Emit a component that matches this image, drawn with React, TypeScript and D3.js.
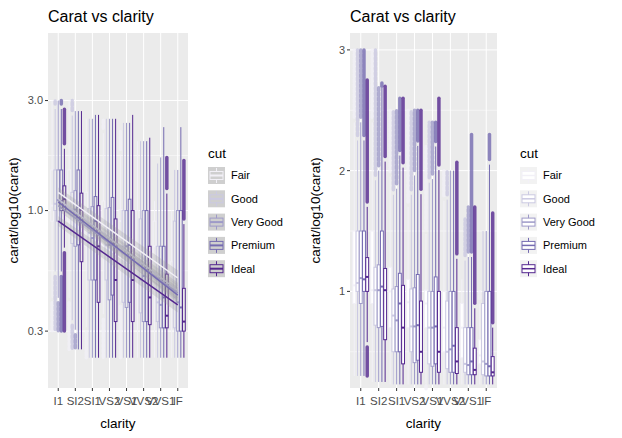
import * as d3 from 'd3'

const clarity = ['I1', 'SI2', 'SI1', 'VS2', 'VS1', 'VVS2', 'VVS1', 'IF']
const cuts = ['Fair', 'Good', 'Very Good', 'Premium', 'Ideal']
const colors = ['#F2F0F7', '#CBC9E2', '#9E9AC8', '#756BB1', '#54278F']

const medians = [
  [1.05, 1.01, 1.0, 0.91, 0.9, 0.7, 0.7, 0.47],
  [1.07, 1.01, 0.8, 0.71, 0.7, 0.5, 0.4, 0.42],
  [1.11, 1.01, 0.76, 0.71, 0.7, 0.52, 0.39, 0.4],
  [1.1, 1.04, 0.9, 0.72, 0.71, 0.55, 0.42, 0.38],
  [1.12, 1.01, 0.7, 0.5, 0.5, 0.42, 0.35, 0.33],
]
const q1s = [
  [0.9, 0.9, 0.7, 0.7, 0.7, 0.5, 0.45, 0.4],
  [1.0, 0.72, 0.5, 0.5, 0.4, 0.36, 0.33, 0.31],
  [0.9, 0.7, 0.5, 0.41, 0.38, 0.33, 0.31, 0.3],
  [1.0, 0.71, 0.5, 0.43, 0.4, 0.33, 0.31, 0.3],
  [1.0, 0.6, 0.4, 0.33, 0.33, 0.32, 0.31, 0.3],
]
const q3s = [
  [1.5, 1.5, 1.2, 1.1, 1.01, 1.0, 0.9, 0.6],
  [1.5, 1.2, 1.02, 1.02, 1.0, 0.92, 0.7, 0.9],
  [1.5, 1.22, 1.04, 1.03, 1.0, 1.0, 0.7, 1.0],
  [1.5, 1.5, 1.15, 1.14, 1.12, 1.0, 0.7, 1.0],
  [1.28, 1.19, 1.05, 0.92, 1.0, 0.7, 0.53, 0.46],
]
const maxVals = [
  [3.0, 3.0, 2.5, 2.5, 2.2, 2.0, 1.1, 1.0],
  [3.0, 3.0, 2.5, 2.5, 2.4, 2.0, 1.6, 1.5],
  [3.0, 2.7, 2.5, 2.5, 2.4, 2.0, 1.7, 1.5],
  [3.0, 2.7, 2.6, 2.5, 2.4, 2.0, 2.3, 2.3],
  [2.75, 2.7, 2.6, 2.5, 2.6, 2.07, 1.7, 1.65],
]
const minVals = [0.3, 0.25, 0.23, 0.23, 0.23, 0.23, 0.23, 0.23]

// lm fit ends on the log panel (value at I1, value at IF)
const fitStart = [1.2, 1.12, 1.05, 1.09, 0.9]
const fitEnd = [0.51, 0.45, 0.44, 0.43, 0.39]

const W = 622
const H = 438

type Panel = {
  x0: number
  x1: number
  log: boolean
  ticks: number[]
  labels: string[]
  minor: number[]
  whiteFill: boolean
}

const top = 33
const bottom = 388

function PanelView({ p }: { p: Panel }) {
  const y = p.log
    ? d3.scaleLog().domain([0.17, 5.89]).range([bottom, top])
    : d3.scaleLinear().domain([0.2, 3.14]).range([bottom, top])
  const x = d3
    .scalePoint<string>()
    .domain(clarity)
    .range([p.x0, p.x1])
    .padding(0.6)
  const step = x.step()
  const dodge = (step * 0.9) / cuts.length
  const t = (v: number) => (p.log ? Math.log10(v) : v)
  const inv = (v: number) => (p.log ? Math.pow(10, v) : v)
  const cx = p.x0 - 30
  return (
    <g>
      <rect x={p.x0} y={top} width={p.x1 - p.x0} height={bottom - top} fill="#EBEBEB" />
      {p.minor.map((v) => (
        <line key={'m' + v} x1={p.x0} x2={p.x1} y1={y(v)} y2={y(v)} stroke="#fff" strokeWidth={0.5} />
      ))}
      {p.ticks.map((v) => (
        <line key={'g' + v} x1={p.x0} x2={p.x1} y1={y(v)} y2={y(v)} stroke="#fff" strokeWidth={1} />
      ))}
      {clarity.map((c) => (
        <line key={'v' + c} x1={x(c)} x2={x(c)} y1={top} y2={bottom} stroke="#fff" strokeWidth={1} />
      ))}
      {clarity.map((c, ci) =>
        cuts.map((cut, k) => {
          const xc = (x(c) as number) - (step * 0.9) / 2 + dodge * (k + 0.5)
          const q1 = q1s[k][ci]
          const q3 = q3s[k][ci]
          const iqr = t(q3) - t(q1)
          const hi = Math.min(inv(t(q3) + 1.5 * iqr), maxVals[k][ci])
          const lo = Math.max(inv(t(q1) - 1.5 * iqr), minVals[ci])
          const col = colors[k]
          const bw = dodge * 0.9
          return (
            <g key={c + cut}>
              {maxVals[k][ci] > hi && (
                <line x1={xc} x2={xc} y1={y(hi) - 5} y2={y(maxVals[k][ci])} stroke={col} strokeWidth={3.5} strokeLinecap="round" opacity={0.8} strokeDasharray={k < 3 ? '3 2' : undefined} />
              )}
              {minVals[ci] < lo && (
                <line x1={xc} x2={xc} y1={y(lo) + 5} y2={y(minVals[ci])} stroke={col} strokeWidth={3.5} strokeLinecap="round" opacity={0.8} strokeDasharray={k < 3 ? '3 2' : undefined} />
              )}
              <line x1={xc} x2={xc} y1={y(hi)} y2={y(lo)} stroke={col} strokeWidth={1} />
              <rect
                x={xc - bw / 2}
                y={y(q3)}
                width={bw}
                height={y(q1) - y(q3)}
                fill={p.whiteFill ? '#fff' : '#EBEBEB'}
                stroke={col}
                strokeWidth={1}
              />
              <line x1={xc - bw / 2} x2={xc + bw / 2} y1={y(medians[k][ci])} y2={y(medians[k][ci])} stroke={col} strokeWidth={2} />
            </g>
          )
        })
      )}
      {p.log &&
        cuts.map((cut, k) => {
          const xa = x(clarity[0]) as number
          const xb = x(clarity[clarity.length - 1]) as number
          return (
            <g key={'fit' + cut}>
              <polygon
                points={`${xa},${y(fitStart[k] * 1.05)} ${xb},${y(fitEnd[k] * 1.08)} ${xb},${y(fitEnd[k] / 1.08)} ${xa},${y(fitStart[k] / 1.05)}`}
                fill="#999"
                opacity={0.25}
              />
              <line x1={xa} x2={xb} y1={y(fitStart[k])} y2={y(fitEnd[k])} stroke={colors[k]} strokeWidth={1.5} />
            </g>
          )
        })}
      {p.ticks.map((v, i) => (
        <g key={'t' + v}>
          <line x1={p.x0 - 3} x2={p.x0} y1={y(v)} y2={y(v)} stroke="#333" />
          <text x={p.x0 - 5} y={y(v)} dy="0.35em" textAnchor="end" fontSize={11} fill="#4D4D4D">
            {p.labels[i]}
          </text>
        </g>
      ))}
      {clarity.map((c) => (
        <g key={'xt' + c}>
          <line x1={x(c)} x2={x(c)} y1={bottom} y2={bottom + 3} stroke="#333" />
          <text x={x(c)} y={bottom + 17} textAnchor="middle" fontSize={11.5} fill="#4D4D4D">
            {c}
          </text>
        </g>
      ))}
      <text x={(p.x0 + p.x1) / 2} y={428} textAnchor="middle" fontSize={13.5}>
        clarity
      </text>
      <text transform={`translate(${cx},${(top + bottom) / 2}) rotate(-90)`} textAnchor="middle" fontSize={13.5}>
        carat/log10(carat)
      </text>
      <text x={p.x0} y={22} fontSize={16}>
        Carat vs clarity
      </text>
    </g>
  )
}

function Legend({ x0, log }: { x0: number; log: boolean }) {
  return (
    <g>
      <text x={x0} y={158} fontSize={13.5}>
        cut
      </text>
      {cuts.map((cut, k) => {
        const yy = 167 + k * 23.3
        return (
          <g key={cut}>
            <rect x={x0} y={yy} width={17} height={17} fill={log ? '#CFCFCF' : '#F2F2F2'} />
            <line x1={x0 + 8.5} x2={x0 + 8.5} y1={yy + 1} y2={yy + 16} stroke={colors[k]} />
            <rect x={x0 + 2} y={yy + 4.5} width={13} height={8} fill={log ? '#CFCFCF' : '#fff'} stroke={colors[k]} />
            <line x1={x0 + 2} x2={x0 + 15} y1={yy + 8.5} y2={yy + 8.5} stroke={colors[k]} strokeWidth={log ? 2 : 1.5} />
            <text x={x0 + 23} y={yy + 8.5} dy="0.35em" fontSize={11}>
              {cut}
            </text>
          </g>
        )
      })}
    </g>
  )
}

const left: Panel = {
  x0: 48,
  x1: 188,
  log: true,
  ticks: [0.3, 1, 3],
  labels: ['0.3', '1.0', '3.0'],
  minor: [0.548, 1.732],
  whiteFill: false,
}
const right: Panel = {
  x0: 350,
  x1: 497,
  log: false,
  ticks: [1, 2, 3],
  labels: ['1', '2', '3'],
  minor: [0.5, 1.5, 2.5],
  whiteFill: true,
}

export default function App() {
  return (
    <svg width={W} height={H} style={{ position: 'absolute', left: 0, top: 0, fontFamily: 'Liberation Sans, Arial, sans-serif' }}>
      <rect width={W} height={H} fill="#fff" />
      <PanelView p={left} />
      <PanelView p={right} />
      <Legend x0={208} log={true} />
      <Legend x0={520} log={false} />
    </svg>
  )
}
